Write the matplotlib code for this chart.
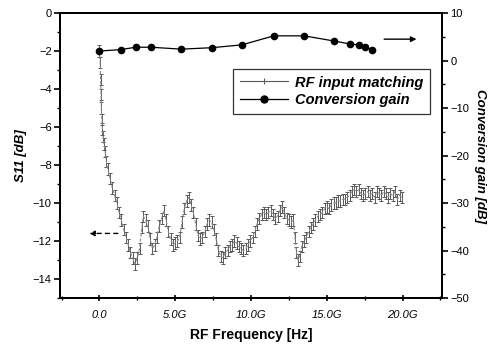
import matplotlib
matplotlib.use("Agg")
import matplotlib.pyplot as plt
from matplotlib.ticker import MultipleLocator
from matplotlib.lines import Line2D

plt.rcParams['font.family'] = ['Liberation Sans', 'DejaVu Sans']

# ---------------- data ----------------
freq_ghz = [0.00, 0.05, 0.08, 0.10, 0.13, 0.16, 0.20, 0.25, 0.30, 0.38, 0.45, 0.55, 0.70, 0.85,
            1.00, 1.15, 1.30, 1.45, 1.60, 1.75, 1.90, 2.05, 2.20, 2.35, 2.50, 2.65, 2.80, 2.90,
            3.05, 3.20, 3.35, 3.50, 3.65, 3.80, 3.95, 4.10, 4.25, 4.40, 4.55, 4.70, 4.85, 5.00,
            5.15, 5.30, 5.45, 5.60, 5.75, 5.90, 6.05, 6.20, 6.35, 6.50, 6.65, 6.80, 6.95, 7.10,
            7.25, 7.40, 7.55, 7.70, 7.85, 8.00, 8.15, 8.30, 8.45, 8.60, 8.75, 8.90, 9.05, 9.20,
            9.35, 9.50, 9.65, 9.80, 9.95, 10.10, 10.25, 10.40, 10.55, 10.70, 10.85, 11.00, 11.15,
            11.30, 11.45, 11.60, 11.75, 11.90, 12.05, 12.20, 12.35, 12.50, 12.65, 12.80, 12.90,
            13.00, 13.10, 13.20, 13.35, 13.50, 13.65, 13.80, 13.95, 14.10, 14.25, 14.40, 14.55,
            14.70, 14.85, 15.00, 15.15, 15.30, 15.45, 15.60, 15.75, 15.90, 16.05, 16.20, 16.35,
            16.50, 16.65, 16.80, 16.95, 17.10, 17.25, 17.40, 17.55, 17.70, 17.85, 18.00, 18.15,
            18.30, 18.45, 18.60, 18.75, 18.90, 19.05, 19.20, 19.35, 19.50, 19.65, 19.80, 19.95]
s11_db = [-2.0, -2.6, -3.5, -4.3, -5.0, -5.6, -6.1, -6.5, -6.9, -7.3, -7.8, -8.2, -8.7, -9.2,
          -9.6, -10.0, -10.5, -10.9, -11.4, -11.8, -12.2, -12.6, -12.9, -13.2, -12.9, -12.4, -11.3, -10.7,
          -10.9, -11.2, -11.9, -12.4, -12.2, -11.8, -11.2, -10.8, -10.4, -10.9, -11.5, -11.9, -12.2, -12.1,
          -12.0, -11.8, -11.0, -10.3, -9.9, -9.7, -10.1, -10.5, -11.1, -11.7, -11.9, -11.8, -11.5, -11.1,
          -10.9, -11.0, -11.4, -11.9, -12.5, -12.8, -12.9, -12.6, -12.5, -12.3, -12.2, -12.0, -12.1, -12.3,
          -12.4, -12.5, -12.4, -12.2, -12.0, -11.8, -11.5, -11.1, -10.8, -10.6, -10.5, -10.6, -10.5,
          -10.4, -10.6, -10.8, -10.7, -10.4, -10.2, -10.5, -10.8, -10.9, -11.0, -10.9, -11.8,
          -12.6, -13.0, -12.8, -12.3, -12.0, -11.8, -11.5, -11.3, -11.1, -10.9, -10.7, -10.6,
          -10.5, -10.3, -10.2, -10.3, -10.1, -10.0, -10.0, -9.9, -9.9, -9.8, -9.8, -9.7,
          -9.6, -9.4, -9.3, -9.4, -9.3, -9.5, -9.6, -9.5, -9.4, -9.6, -9.5, -9.7,
          -9.4, -9.5, -9.6, -9.4, -9.5, -9.7, -9.5, -9.6, -9.4, -9.8, -9.6, -9.7]
s11_spread = 0.3

gain_freq_ghz = [0.0, 1.4, 2.4, 3.4, 5.4, 7.4, 9.4, 11.5, 13.5, 15.5, 16.5, 17.1, 17.5, 18.0]
gain_db = [2.0, 2.3, 2.8, 2.8, 2.4, 2.7, 3.3, 5.2, 5.2, 4.1, 3.5, 3.3, 2.8, 2.3]

xtick_pos = [0, 5, 10, 15, 20]
xtick_labels = ["0.0", "5.0G", "10.0G", "15.0G", "20.0G"]

# ---------------- figure ----------------
fig = plt.figure(figsize=(4.91, 3.45), dpi=100)
ax = fig.add_axes([0.1222, 0.1362, 0.778, 0.826])
ax2 = ax.twinx()

trace_col = '0.55'
ax.errorbar(freq_ghz, s11_db, yerr=s11_spread, color=trace_col, ecolor='0.35',
            lw=0.8, ls=(0, (3, 1.5)), elinewidth=0.7, capsize=1.5, capthick=0.7, zorder=2)

ax2.plot(gain_freq_ghz, gain_db, color='black', lw=0.9, marker='o', ms=4.5, zorder=3)

ax.set_xlim(-2.6, 22.6)
ax.set_ylim(-15, 0)
ax2.set_ylim(-50, 10)

ax.set_xticks(xtick_pos)
ax.set_xticklabels(xtick_labels, fontstyle='italic', fontsize=8)
ax.xaxis.set_minor_locator(MultipleLocator(2.5))
ax.yaxis.set_major_locator(MultipleLocator(2))
ax.yaxis.set_minor_locator(MultipleLocator(1))
ax2.yaxis.set_major_locator(MultipleLocator(10))
ax2.yaxis.set_minor_locator(MultipleLocator(5))

for a in (ax, ax2):
    for s in a.spines.values():
        s.set_linewidth(1.4)
    a.tick_params(which='major', length=4, width=1.2, labelsize=8, direction='out')
    a.tick_params(which='minor', length=2.5, width=1.0, direction='out')
ax.tick_params(axis='x', which='both', direction='inout', pad=6)
ax.tick_params(axis='x', which='major', length=5)
ax.tick_params(axis='y', pad=2)
ax2.tick_params(axis='y', pad=2)

ax.set_xlabel("RF Frequency [Hz]", fontsize=10, fontweight='bold', labelpad=6)
ax.set_ylabel("S11 [dB]", fontsize=9.5, fontweight='bold', fontstyle='italic', labelpad=4)
ax2.set_ylabel("Conversion gain [dB]", fontsize=9.5, fontweight='bold', fontstyle='italic',
               rotation=270, labelpad=12)

# arrows
ax.annotate("", xy=(-0.85, -11.6), xytext=(1.4, -11.6),
            arrowprops=dict(arrowstyle='-|>', color='black', lw=1.0, ls=(0, (3, 3)),
                            mutation_scale=8))
ax2.annotate("", xy=(21.1, 4.5), xytext=(18.6, 4.5),
             arrowprops=dict(arrowstyle='-|>', color='black', lw=1.0, mutation_scale=8))

handles = [
    Line2D([], [], color='0.35', lw=0.8, marker='|', ms=5, mew=0.8),
    Line2D([], [], color='black', lw=0.9, marker='o', ms=5),
]
leg = ax2.legend(handles, ["RF input matching", "Conversion gain"],
                 loc='upper left', bbox_to_anchor=(233 / 491, 1 - 69 / 345),
                 bbox_transform=fig.transFigure, frameon=True, fancybox=False,
                 edgecolor='black', handlelength=3.3, handletextpad=0.5,
                 borderpad=0.45, labelspacing=0.25, borderaxespad=0,
                 prop=dict(style='italic', weight='bold', size=10.5))
leg.get_frame().set_linewidth(0.9)

fig.savefig("out.png", dpi=100)
